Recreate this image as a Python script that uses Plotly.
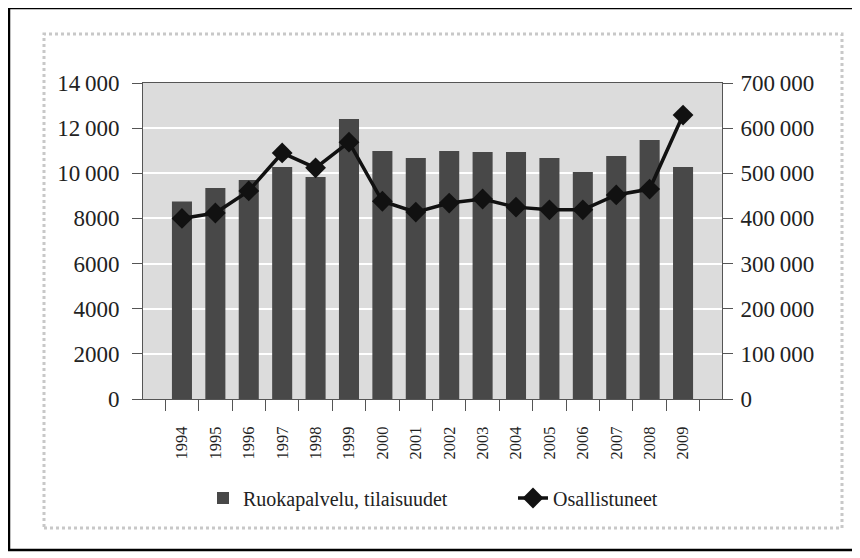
import plotly.graph_objects as go

years = [str(y) for y in range(1994, 2010)]
tilaisuudet = [8750, 9350, 9700, 10280, 9840, 12400, 10990, 10680,
               10990, 10940, 10940, 10680, 10060, 10770, 11470, 10280]
osallistuneet = [400000, 412000, 461000, 545000, 512000, 569000, 438000, 414000,
                 434000, 443000, 425000, 419000, 419000, 452000, 465000, 629000]

left_ticks = [0, 2000, 4000, 6000, 8000, 10000, 12000, 14000]
left_text = ["0", "2000", "4000", "6000", "8000", "10\u2009000", "12\u2009000", "14\u2009000"]
right_ticks = [0, 100000, 200000, 300000, 400000, 500000, 600000, 700000]
right_text = ["0", "100\u2009000", "200\u2009000", "300\u2009000", "400\u2009000",
              "500\u2009000", "600\u2009000", "700\u2009000"]

font = "Liberation Serif"

# page is offset 8px by the body margin, so the figure is sized to fit
W, H = 852, 550
PL, PR, PT, PB = 135, 714, 75, 391  # plot area in figure pixels
pw, ph = PR - PL, PB - PT


def px(x):
    return (x - PL) / pw


def py(y):
    return (PB - y) / ph


fig = go.Figure()

fig.add_bar(
    x=years,
    y=tilaisuudet,
    name="Ruokapalvelu, tilaisuudet",
    marker=dict(color="#484848", line=dict(width=0)),
    legend="legend",
)

fig.add_scatter(
    x=years,
    y=osallistuneet,
    name="Osallistuneet",
    yaxis="y2",
    mode="lines+markers",
    line=dict(color="#111111", width=3.5),
    marker=dict(symbol="diamond", size=16, color="#111111"),
    legend="legend2",
)

legend_style = dict(
    orientation="h",
    xanchor="left",
    yanchor="middle",
    font=dict(size=20, color="#222222"),
    bgcolor="rgba(0,0,0,0)",
)

fig.update_layout(
    width=W,
    height=H,
    margin=dict(l=PL, r=W - PR, t=PT, b=H - PB),
    paper_bgcolor="white",
    plot_bgcolor="#dcdcdc",
    bargap=0.4,
    font=dict(family=font, size=23, color="#222222"),
    showlegend=True,
    legend=dict(legend_style, x=px(195), y=py(490)),
    legend2=dict(legend_style, x=px(505), y=py(490)),
    xaxis=dict(
        type="category",
        tickangle=-90,
        tickson="boundaries",
        ticks="outside",
        ticklen=11,
        tickcolor="#555555",
        ticklabelstandoff=20,
        showline=True,
        linecolor="#555555",
        linewidth=1,
        mirror=True,
        showgrid=False,
        tickfont=dict(size=16.5),
    ),
    yaxis=dict(
        range=[0, 14000],
        tickvals=left_ticks,
        ticktext=left_text,
        ticks="outside",
        ticklen=10,
        tickcolor="#555555",
        ticklabelstandoff=8,
        showline=True,
        linecolor="#555555",
        linewidth=1,
        showgrid=True,
        gridcolor="white",
        gridwidth=2,
        zeroline=False,
    ),
    yaxis2=dict(
        overlaying="y",
        side="right",
        range=[0, 700000],
        tickvals=right_ticks,
        ticktext=right_text,
        ticks="outside",
        ticklen=10,
        tickcolor="#555555",
        ticklabelstandoff=3,
        showline=True,
        linecolor="#555555",
        linewidth=1,
        showgrid=False,
        zeroline=False,
    ),
    shapes=[
        # outer black frame
        dict(type="rect", xref="paper", yref="paper",
             x0=px(1), x1=px(848), y0=py(542), y1=py(0),
             line=dict(color="black", width=2.5), layer="below"),
        # speckled scan frame
        dict(type="rect", xref="paper", yref="paper",
             x0=px(36), x1=px(834), y0=py(520), y1=py(26),
             line=dict(color="#c8c8c8", width=3, dash="dot"), layer="below"),
    ],
)

fig.write_html("out.html")
